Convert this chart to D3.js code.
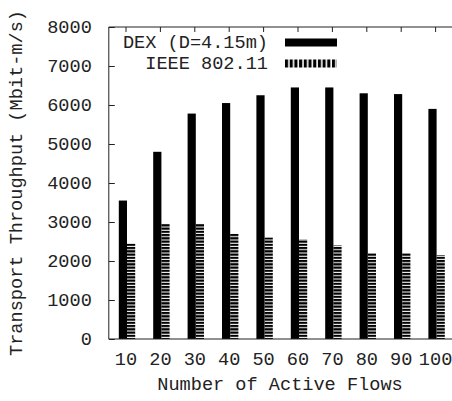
<!DOCTYPE html>
<html>
<head>
<meta charset="utf-8">
<script src="https://cdn.jsdelivr.net/npm/d3@7"></script>
<style>
  html, body { margin: 0; padding: 0; background: #fff; }
  svg { display: block; }
  text { font-family: "Courier New", "Liberation Mono", monospace; fill: #222; }
</style>
</head>
<body>
<script>
// ---- data ----
const categories = ["10", "20", "30", "40", "50", "60", "70", "80", "90", "100"];
const dexValues  = [3550, 4800, 5780, 6050, 6250, 6450, 6450, 6300, 6280, 5900];
const ieeeValues = [2450, 2950, 2950, 2700, 2600, 2550, 2400, 2200, 2200, 2150];
const yTickValues = [0, 1000, 2000, 3000, 4000, 5000, 6000, 7000, 8000];
const seriesNames = ["DEX (D=4.15m)", "IEEE 802.11"];
const xTitle = "Number of Active Flows";
const yTitle = "Transport Throughput (Mbit-m/s)";

// ---- layout ----
const W = 452, H = 401;
const pLeft = 108.8, pRight = 452.8, pTop = 27, pBottom = 339;
const fontSize = 18.6;

const svg = d3.select("body").append("svg").attr("width", W).attr("height", H);

const defs = svg.append("defs");
defs.append("pattern").attr("id", "hstripe").attr("patternUnits", "userSpaceOnUse")
  .attr("x", 0).attr("y", 0).attr("width", 10).attr("height", 3.25)
  .append("rect").attr("x", 0).attr("y", 0).attr("width", 10).attr("height", 2.2).attr("fill", "#000");
defs.append("pattern").attr("id", "vstripe").attr("patternUnits", "userSpaceOnUse")
  .attr("x", 285).attr("y", 0).attr("width", 4.7).attr("height", 10)
  .append("rect").attr("x", 0).attr("y", 0).attr("width", 3.1).attr("height", 10).attr("fill", "#000");

const x = d3.scaleBand().domain(categories).range([pLeft, pRight]).padding(0);
const y = d3.scaleLinear().domain([0, 8000]).range([pBottom, pTop]);
const cx = c => x(c) + x.bandwidth() / 2;

const barW = 8.2;

// bars
svg.append("g").selectAll("rect").data(categories).join("rect")
  .attr("x", c => cx(c) - 7.2)
  .attr("width", barW)
  .attr("y", (c, i) => y(dexValues[i]))
  .attr("height", (c, i) => y(0) - y(dexValues[i]))
  .attr("fill", "#000");

svg.append("g").selectAll("rect").data(categories).join("rect")
  .attr("x", c => cx(c) + 1.0)
  .attr("width", barW)
  .attr("y", (c, i) => y(ieeeValues[i]))
  .attr("height", (c, i) => y(0) - y(ieeeValues[i]))
  .attr("fill", "url(#hstripe)");

// axes
const axisColor = "#222";
const yAxis = svg.append("g").attr("transform", `translate(${pLeft},0)`)
  .call(d3.axisLeft(y).tickValues(yTickValues).tickSize(-6).tickPadding(17).tickFormat(d3.format("d")));
yAxis.select(".domain").remove();
yAxis.selectAll(".tick line").attr("stroke", axisColor);
yAxis.selectAll(".tick text").attr("font-size", fontSize).attr("font-family", null).attr("fill", "#222");

const xAxis = svg.append("g").attr("transform", `translate(0,${pBottom})`)
  .call(d3.axisBottom(x).tickSize(0).tickPadding(13));
xAxis.select(".domain").remove();
xAxis.selectAll(".tick text").attr("font-size", fontSize).attr("font-family", null).attr("fill", "#222");

const xTopAxis = svg.append("g").attr("transform", `translate(0,${pTop})`)
  .call(d3.axisTop(x).tickSize(-5).tickFormat(""));
xTopAxis.select(".domain").remove();
xTopAxis.selectAll(".tick line").attr("stroke", axisColor);

svg.append("path")
  .attr("d", `M${pLeft},${pTop}H${pRight}M${pLeft},${pTop}V${pBottom}H${pRight}`)
  .attr("fill", "none").attr("stroke", axisColor).attr("stroke-width", 1);

// titles
svg.append("text").attr("x", 280).attr("y", 385).attr("text-anchor", "middle")
  .attr("dominant-baseline", "middle").attr("font-size", fontSize).text(xTitle);
svg.append("text").attr("transform", `translate(17,183) rotate(-90)`).attr("text-anchor", "middle")
  .attr("dominant-baseline", "middle").attr("font-size", fontSize).text(yTitle);

// legend
const legendFills = ["#000", "url(#vstripe)"];
const legendY = [43, 64];
const lg = svg.append("g");
seriesNames.forEach((name, i) => {
  lg.append("text").attr("x", 268).attr("y", legendY[i]).attr("text-anchor", "end")
    .attr("dominant-baseline", "middle").attr("font-size", fontSize).text(name);
  lg.append("rect").attr("x", 285).attr("y", legendY[i] - 4.5).attr("width", 52).attr("height", 8)
    .attr("fill", legendFills[i]);
});
</script>
</body>
</html>
